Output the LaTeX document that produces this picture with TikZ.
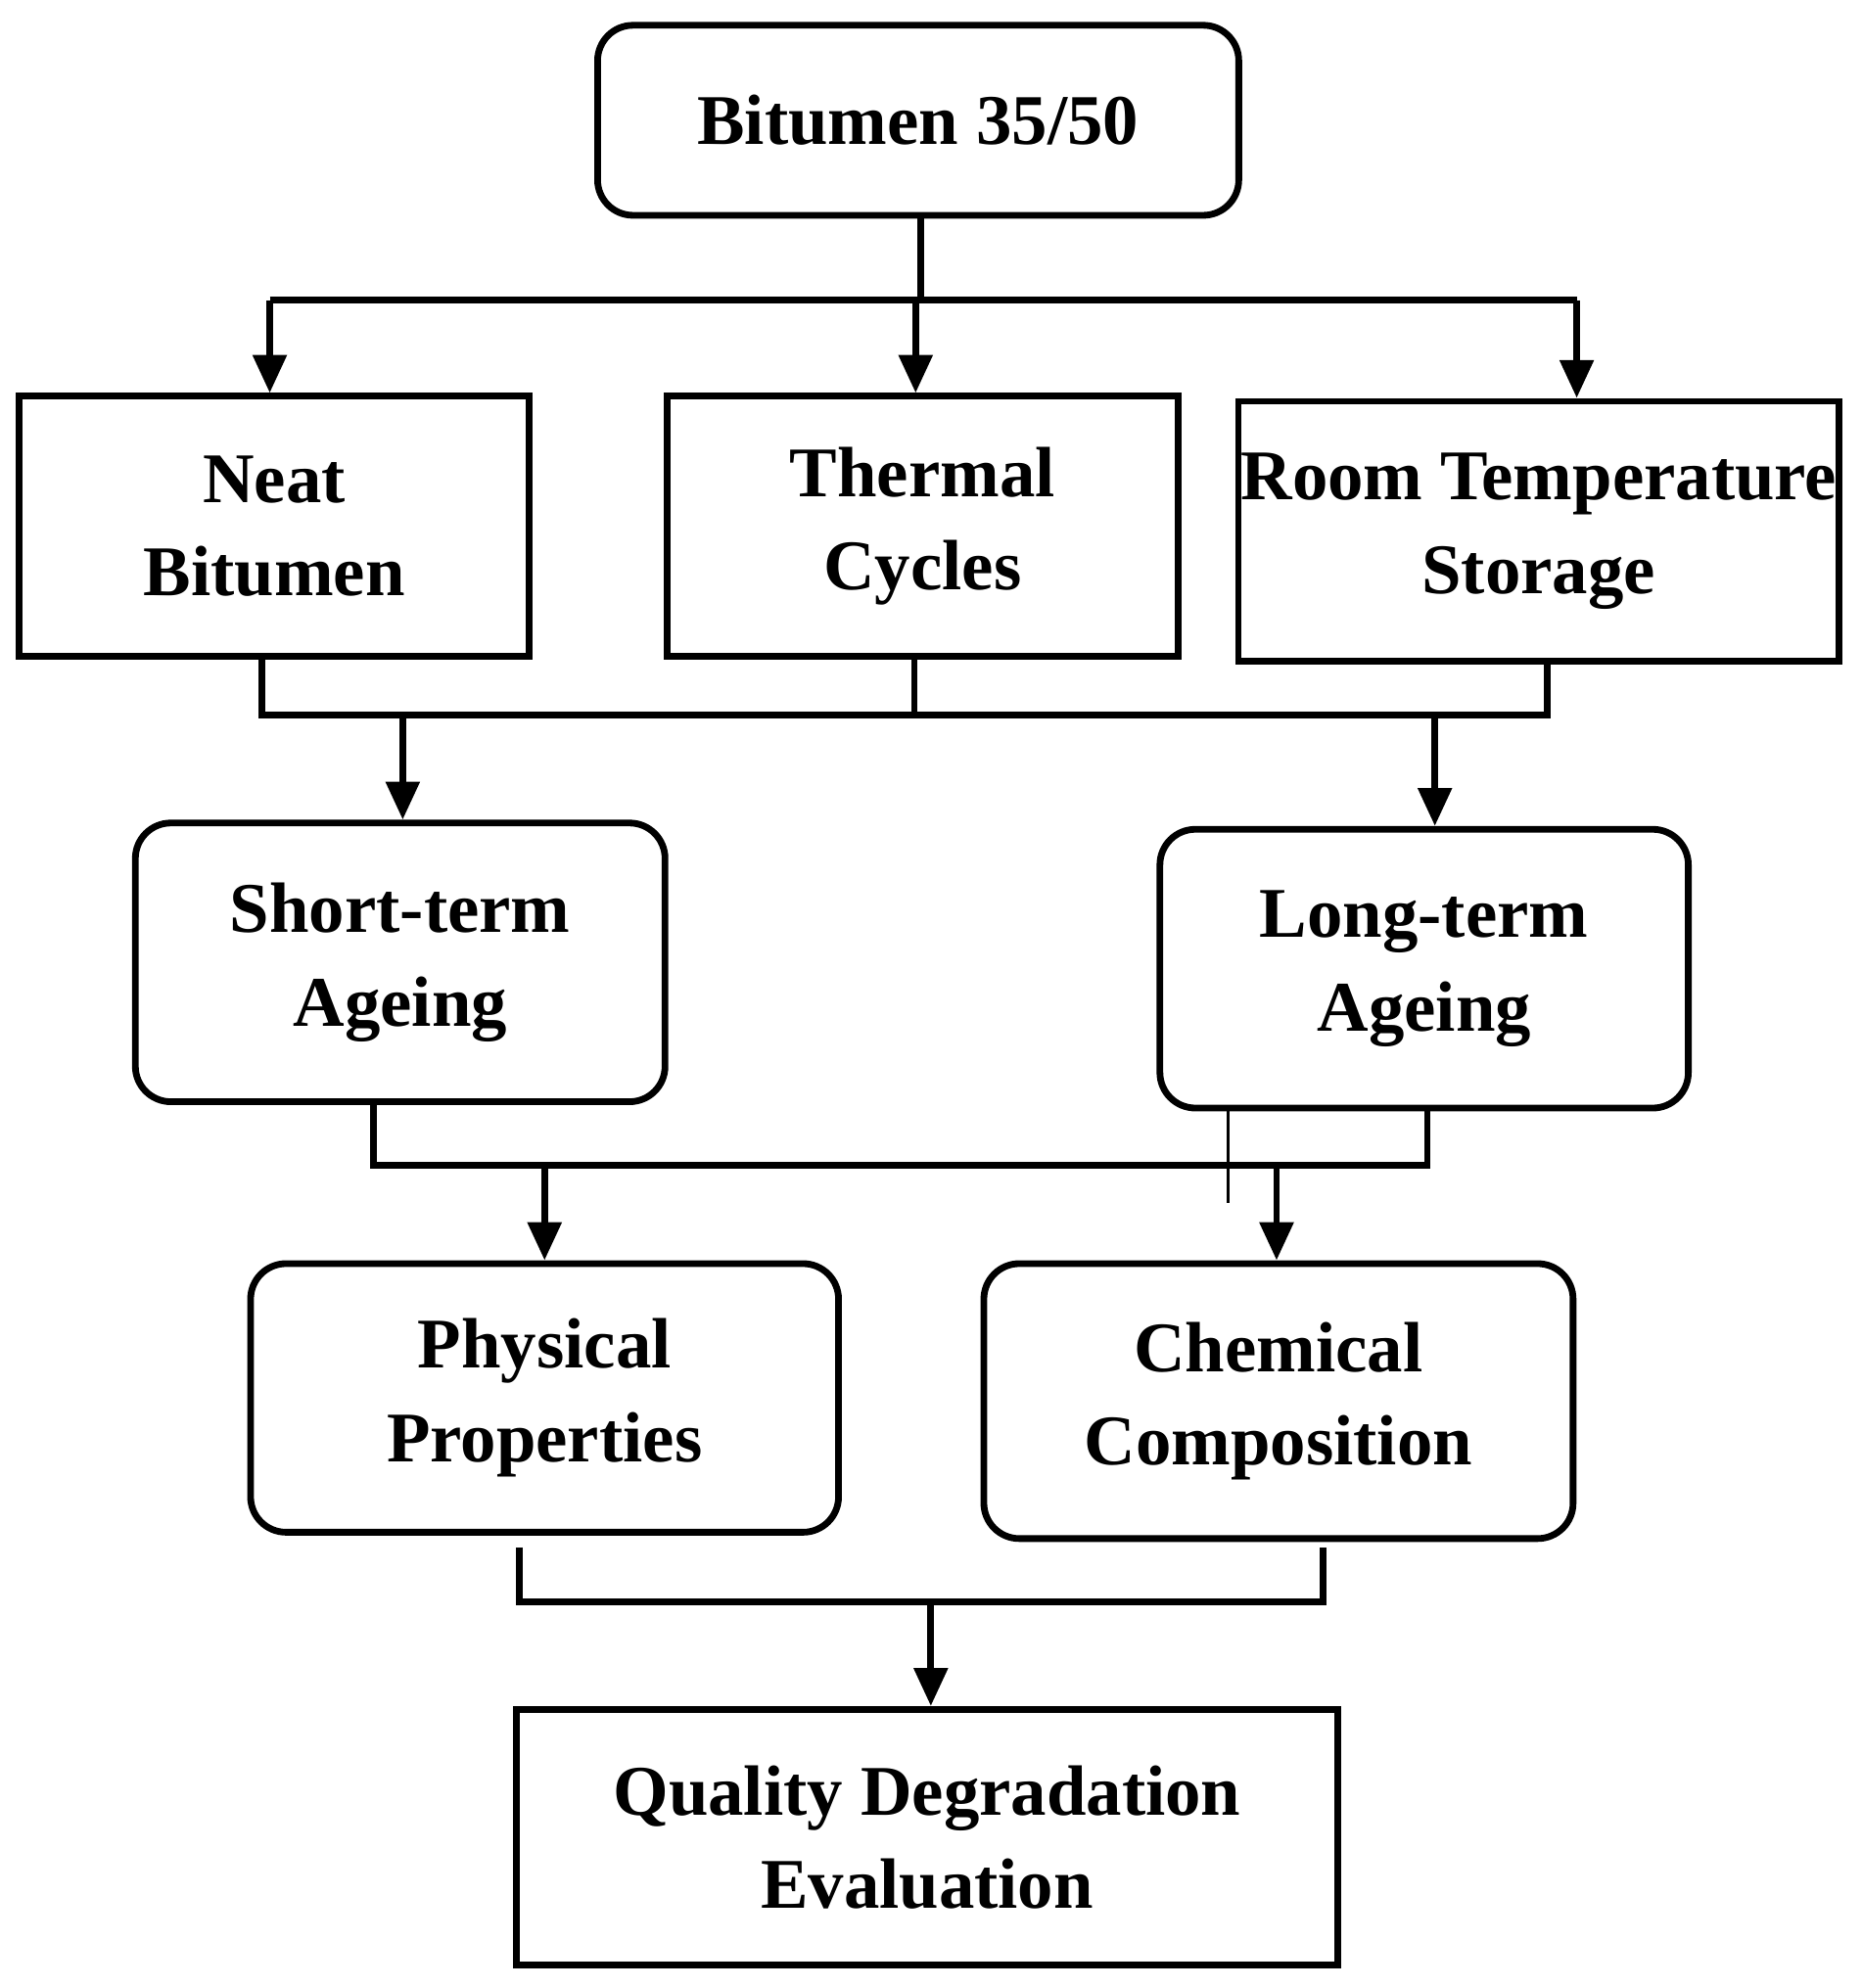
\documentclass[tikz,border=0pt]{standalone}
\usepackage{fontspec}
\setmainfont{Liberation Serif}
\usetikzlibrary{arrows.meta}
\begin{document}
\begin{tikzpicture}[x=0.01cm,y=-0.01cm,line width=1.5pt,
  box/.style={draw,align=center,inner sep=0pt,font=\fontsize{16}{21}\selectfont\bfseries},
  rbox/.style={box,rounded corners=0.28cm},
  arr/.style={-{Triangle[length=0.3cm,width=0.26cm]}}]
\useasboundingbox (0,0) rectangle (1470,1570);
\node[rbox,minimum width=5.06cm,minimum height=1.5cm] (bit) at (725,95) {Bitumen 35/50};
\node[box,minimum width=4.03cm,minimum height=2.05cm] (neat) at (216.5,415.5) {Neat\\Bitumen};
\node[box,minimum width=4.03cm,minimum height=2.05cm] (therm) at (728.5,415.5) {Thermal\\Cycles};
\node[box,minimum width=4.74cm,minimum height=2.05cm] (room) at (1215,419.5) {Room Temperature\\Storage};
\node[rbox,minimum width=4.18cm,minimum height=2.2cm] (short) at (316,760) {Short-term\\Ageing};
\node[rbox,minimum width=4.17cm,minimum height=2.2cm] (long) at (1124.5,765) {Long-term\\Ageing};
\node[rbox,minimum width=4.64cm,minimum height=2.12cm] (phys) at (430,1104) {Physical\\Properties};
\node[rbox,minimum width=4.65cm,minimum height=2.17cm] (chem) at (1009.5,1106.5) {Chemical\\Composition};
\node[box,minimum width=6.48cm,minimum height=2.02cm] (qual) at (732,1451) {Quality Degradation\\Evaluation};
% level 1
\draw (bit.south -| 727,0) -- (727,237);
\draw (213,237) -- (1245,237);
\draw[arr] (213,237) -- (neat.north -| 213,0);
\draw[arr] (723,237) -- (therm.north -| 723,0);
\draw[arr] (1245,237) -- (room.north -| 1245,0);
% level 2
\draw (neat.south -| 207,0) -- (207,565) -- (1222,565) -- (room.south -| 1222,0);
\draw (therm.south -| 722,0) -- (722,565);
\draw[arr] (318,565) -- (short.north -| 318,0);
\draw[arr] (1133,565) -- (long.north -| 1133,0);
% level 3
\draw (short.south -| 295,0) -- (295,920) -- (1127,920) -- (long.south -| 1127,0);
\draw[line width=0.6pt] (970,875) -- (970,950);
\draw[arr] (430,920) -- (phys.north -| 430,0);
\draw[arr] (1008,920) -- (chem.north -| 1008,0);
% level 4
\draw (410,1222) -- (410,1265) -- (1045,1265) -- (1045,1222);
\draw[arr] (735,1265) -- (qual.north -| 735,0);
\end{tikzpicture}
\end{document}
